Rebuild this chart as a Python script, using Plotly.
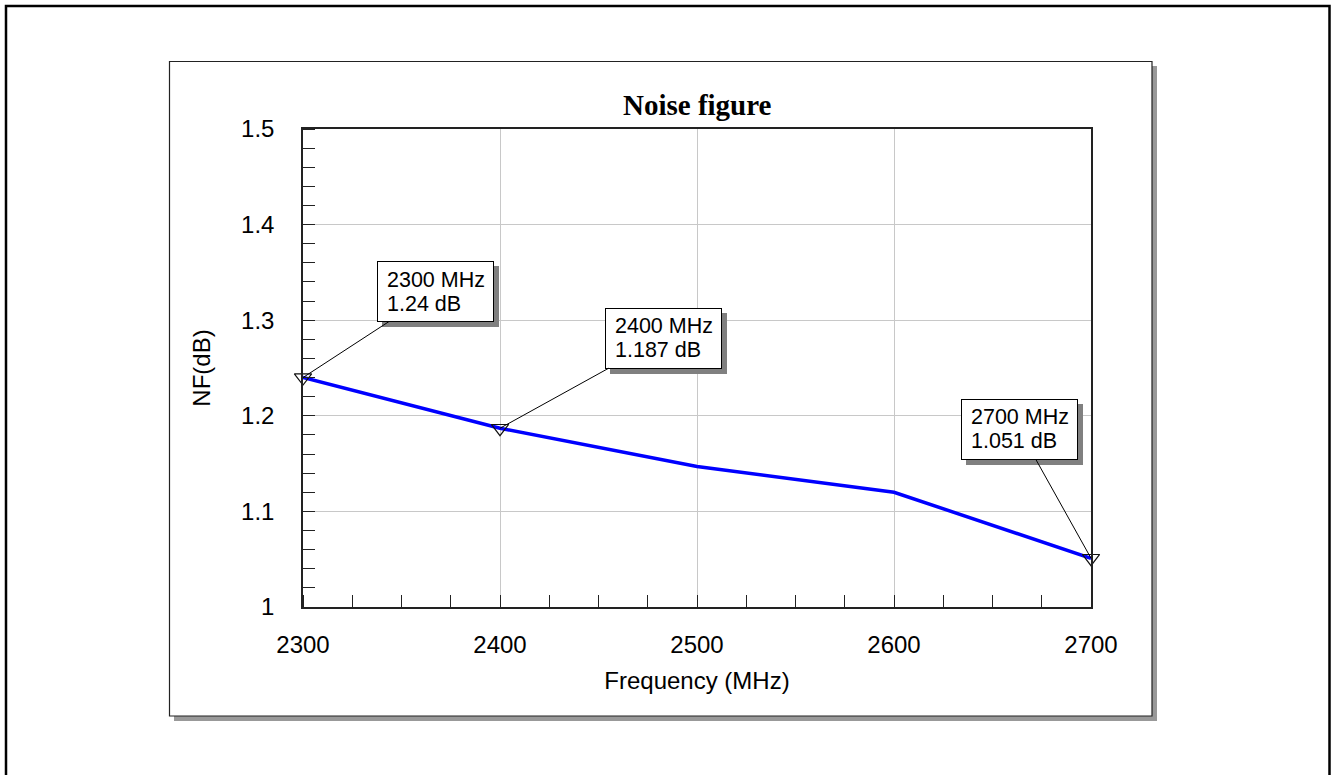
import plotly.graph_objects as go

# ---- data ----
freq_mhz = [2300, 2400, 2500, 2600, 2700]
nf_db = [1.24, 1.187, 1.147, 1.12, 1.051]

marker_freq = [2300, 2400, 2700]
marker_nf = [1.24, 1.187, 1.051]

x_ticks = [2300, 2400, 2500, 2600, 2700]
y_ticks = [1, 1.1, 1.2, 1.3, 1.4, 1.5]

title_text = "Noise figure"
x_title = "Frequency (MHz)"
y_title = "NF(dB)"

# ---- layout constants (pixels) ----
W, H = 1332, 775
L, R, T, B = 303, 241, 129, 168
PW = W - L - R
PH = H - T - B

def px2paper_x(px):
    return (px - L) / PW

def px2paper_y(py):
    return (H - B - py) / PH

SANS = "Liberation Sans, Arial, sans-serif"
SERIF = "Liberation Serif, Times New Roman, serif"

fig = go.Figure()

fig.add_trace(go.Scatter(
    x=freq_mhz, y=nf_db, mode="lines",
    line=dict(color="#0000ff", width=3.5),
    hoverinfo="skip", showlegend=False,
))
fig.add_trace(go.Scatter(
    x=marker_freq, y=marker_nf, mode="markers", cliponaxis=False,
    marker=dict(symbol="triangle-down-open", size=15, color="#111111",
                line=dict(width=1.2, color="#111111")),
    hoverinfo="skip", showlegend=False,
))

# ---- frame shapes ----
shapes = []
shapes.append(dict(type="rect", xref="paper", yref="paper",
                   x0=px2paper_x(6), x1=px2paper_x(1329.5),
                   y0=px2paper_y(790), y1=px2paper_y(6),
                   line=dict(color="#000000", width=2.5),
                   fillcolor="rgba(0,0,0,0)", layer="below"))
shapes.append(dict(type="rect", xref="paper", yref="paper",
                   x0=px2paper_x(174), x1=px2paper_x(1157),
                   y0=px2paper_y(721), y1=px2paper_y(66),
                   line=dict(width=0), fillcolor="#999999", layer="below"))
shapes.append(dict(type="rect", xref="paper", yref="paper",
                   x0=px2paper_x(169.5), x1=px2paper_x(1152),
                   y0=px2paper_y(716), y1=px2paper_y(61.5),
                   line=dict(color="#222222", width=1.2),
                   fillcolor="#ffffff", layer="below"))

# ---- annotations ----
ann_offsets = [(132, -86), (163, -90), (-72, -129)]
annotations = []
box_kw = dict(showarrow=True, arrowhead=0, arrowwidth=1, standoff=0,
              width=109, height=53, borderpad=3, borderwidth=1,
              text=" ", font=dict(family=SANS, size=12, color="#000000"))
for (f, v), (ax, ay) in zip(zip(marker_freq, marker_nf), ann_offsets):
    annotations.append(dict(x=f, y=v, xref="x", yref="y", ax=ax, ay=ay,
                            bgcolor="#808080", bordercolor="#808080",
                            arrowcolor="rgba(0,0,0,0)", xshift=5, yshift=-5,
                            **box_kw))
for (f, v), (ax, ay) in zip(zip(marker_freq, marker_nf), ann_offsets):
    annotations.append(dict(x=f, y=v, xref="x", yref="y", ax=ax, ay=ay,
                            bgcolor="#ffffff", bordercolor="#000000",
                            arrowcolor="#000000", **box_kw))
for (f, v), (ax, ay) in zip(zip(marker_freq, marker_nf), ann_offsets):
    lines = [f"{f} MHz", f"{v} dB"]
    for i, ln in enumerate(lines):
        annotations.append(dict(x=f, y=v, xref="x", yref="y", showarrow=False,
                                text=ln, xanchor="left", yanchor="middle",
                                xshift=ax - 50.5,
                                yshift=-(ay - 12) - 24 * i,
                                font=dict(family=SANS, size=21.5, color="#000000")))

annotations.append(dict(text=f"<b>{title_text}</b>", xref="paper", yref="paper",
                        x=0.5, y=1, xanchor="center", yanchor="bottom",
                        yshift=6, showarrow=False,
                        font=dict(family=SERIF, size=29, color="#000000")))

fig.update_layout(
    width=W, height=H, autosize=False,
    margin=dict(l=L, r=R, t=T, b=B, pad=0),
    paper_bgcolor="#ffffff", plot_bgcolor="rgba(0,0,0,0)",
    shapes=shapes, annotations=annotations,
    showlegend=False,
    font=dict(family=SANS, size=24, color="#000000"),
)

fig.update_xaxes(
    range=[2300, 2700], tickvals=x_ticks, ticktext=[str(v) for v in x_ticks],
    showgrid=True, gridcolor="#c8c8c8", gridwidth=1,
    showline=True, linecolor="#222222", linewidth=1.5, mirror=True,
    ticks="", ticklabelstandoff=15,
    tickfont=dict(family=SANS, size=24, color="#000000"),
    minor=dict(ticks="inside", dtick=25, ticklen=12, tickcolor="#222222",
               tickwidth=1, showgrid=False),
    zeroline=False,
    title=dict(text=x_title, standoff=16,
               font=dict(family=SANS, size=24, color="#000000")),
)
fig.update_yaxes(
    range=[1, 1.5], tickvals=y_ticks, ticktext=[f"{v:g}" for v in y_ticks],
    showgrid=True, gridcolor="#c8c8c8", gridwidth=1,
    showline=True, linecolor="#222222", linewidth=1.5, mirror=True,
    ticks="", ticklabelstandoff=22,
    tickfont=dict(family=SANS, size=24, color="#000000"),
    minor=dict(ticks="inside", dtick=0.02, ticklen=12, tickcolor="#222222",
               tickwidth=1, showgrid=False),
    zeroline=False,
    title=dict(text=y_title, standoff=24,
               font=dict(family=SANS, size=24, color="#000000")),
)

fig.write_html("out.html", config={"displayModeBar": False})
